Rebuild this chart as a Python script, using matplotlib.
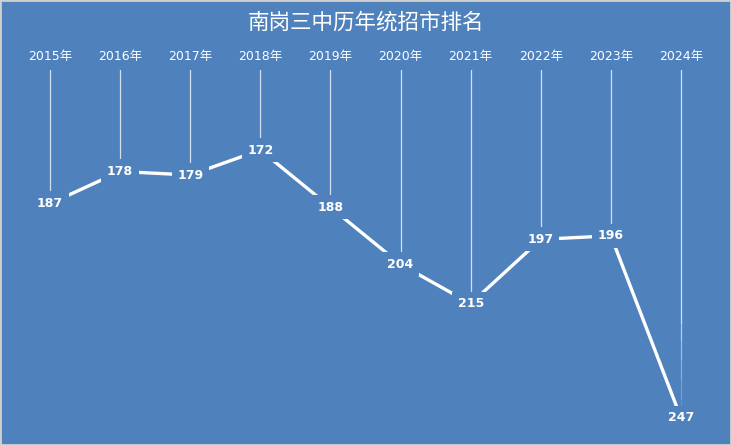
import numpy as np
import matplotlib.pyplot as plt
from matplotlib.patches import Rectangle

years = ["2015年", "2016年", "2017年", "2018年", "2019年",
         "2020年", "2021年", "2022年", "2023年", "2024年"]
ranks = [187, 178, 179, 172, 188, 204, 215, 197, 196, 247]
title = "南岗三中历年统招市排名"

bg = "#4f81bd"
fonts = ["DejaVu Sans", "Noto Sans CJK SC"]
plt.rcParams["font.family"] = fonts

fig = plt.figure(figsize=(7.31, 4.45), dpi=100)
fig.patch.set_facecolor(bg)

ax = fig.add_axes([0, 0, 1, 375 / 445])
ax.set_facecolor(bg)
for s in ax.spines.values():
    s.set_visible(False)

x = np.arange(len(years))
ax.set_xlim(-0.713, len(years) - 1 + 0.713)
ax.set_ylim(254.56, 149.6)

# drop lines from the top, the long one fades out towards the bottom
top = 149.6
fade = 220
for xi, r in zip(x, ranks):
    ax.plot([xi, xi], [top, min(r, fade)], color="white", alpha=0.75, lw=0.9, zorder=1)
    if r > fade:
        ys = np.linspace(fade, r, 6)
        for k, (a, b) in enumerate(zip(ys[:-1], ys[1:])):
            ax.plot([xi, xi], [a, b], color="white", lw=0.9, zorder=1,
                    alpha=0.6 * (1 - k / 5), solid_capstyle="butt")

ax.plot(x, ranks, color="white", lw=2.4, zorder=2, solid_capstyle="butt")

for xi, r in zip(x, ranks):
    ax.text(xi, r, str(r), ha="center", va="center", color="white",
            fontsize=9, fontweight="bold", zorder=3,
            bbox=dict(boxstyle="square,pad=0.45", fc=bg, ec="none"))

ax.xaxis.tick_top()
ax.set_xticks(x)
ax.set_xticklabels(years, fontsize=9, color="white")
ax.tick_params(axis="x", length=0, pad=5)
ax.set_yticks([])

fig.text(0.5, 1 - 23 / 445, title, ha="center", va="center", color="white",
         fontsize=15.5, family=["Noto Sans CJK SC", "DejaVu Sans"])

fig.add_artist(Rectangle((0, 0), 1, 1, transform=fig.transFigure, fill=False,
                         ec="#d0d0d0", lw=2, zorder=10))

fig.savefig("out.png", dpi=100, facecolor=bg)
